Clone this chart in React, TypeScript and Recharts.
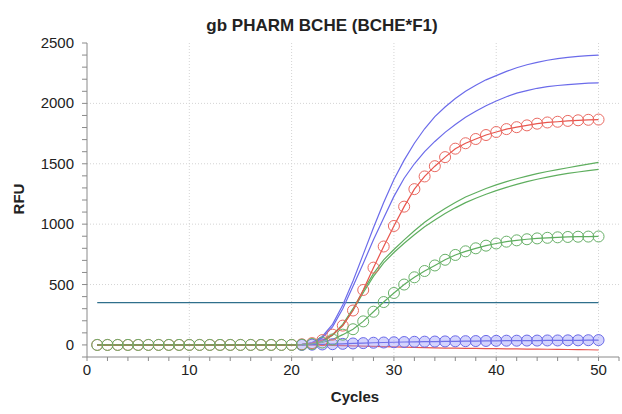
import React from 'react';
import { LineChart, Line, XAxis, YAxis, CartesianGrid } from 'recharts';

const cycles = [1, 2, 3, 4, 5, 6, 7, 8, 9, 10, 11, 12, 13, 14, 15, 16, 17, 18, 19, 20, 21, 22, 23, 24, 25, 26, 27, 28, 29, 30, 31, 32, 33, 34, 35, 36, 37, 38, 39, 40, 41, 42, 43, 44, 45, 46, 47, 48, 49, 50];

const blueLineA = [0, 0, 0, 0, 0, 0, 0, 0, 0, 0, 0, 0, 0, 0, 0, 0, 0, 0, 0, 0,
  5, 20, 70, 170, 330, 530, 750, 970, 1180, 1370, 1530, 1670, 1790, 1890, 1970, 2040, 2100, 2150, 2195, 2230,
  2265, 2295, 2320, 2340, 2357, 2370, 2381, 2390, 2396, 2400];

const blueLineB = [0, 0, 0, 0, 0, 0, 0, 0, 0, 0, 0, 0, 0, 0, 0, 0, 0, 0, 0, 0,
  3, 15, 60, 150, 300, 485, 675, 870, 1050, 1230, 1380, 1500, 1600, 1685, 1760, 1825, 1885, 1935, 1980, 2020,
  2055, 2085, 2105, 2125, 2138, 2148, 2156, 2162, 2167, 2170];

const redCircles = [0, 0, 0, 0, 0, 0, 0, 0, 0, 0, 0, 0, 0, 0, 0, 0, 0, 0, 0, 0,
  5, 15, 40, 85, 160, 285, 455, 640, 815, 985, 1145, 1290, 1395, 1480, 1555, 1625, 1670, 1705, 1738, 1763,
  1787, 1803, 1818, 1832, 1842, 1848, 1855, 1860, 1864, 1866];

const greenLineA = [0, 0, 0, 0, 0, 0, 0, 0, 0, 0, 0, 0, 0, 0, 0, 0, 0, 0, 0, 0,
  3, 10, 30, 85, 170, 300, 450, 590, 705, 790, 870, 945, 1015, 1075, 1130, 1180, 1225, 1260, 1295, 1325,
  1352, 1376, 1398, 1418, 1436, 1452, 1467, 1482, 1497, 1512];

const greenLineB = [0, 0, 0, 0, 0, 0, 0, 0, 0, 0, 0, 0, 0, 0, 0, 0, 0, 0, 0, 0,
  3, 9, 28, 80, 162, 288, 432, 568, 680, 765, 842, 912, 978, 1035, 1088, 1135, 1178, 1215, 1248, 1278,
  1305, 1330, 1352, 1372, 1390, 1406, 1420, 1432, 1443, 1453];

const greenCircles = [0, 0, 0, 0, 0, 0, 0, 0, 0, 0, 0, 0, 0, 0, 0, 0, 0, 0, 0, 0,
  2, 8, 20, 45, 85, 130, 195, 275, 355, 430, 500, 560, 612, 658, 705, 745, 775, 800, 822, 840,
  855, 866, 875, 882, 887, 891, 894, 896, 897, 898];

const redLow = [0, 0, 0, 0, 0, 0, 0, 0, 0, 0, 0, 0, 0, 0, 0, 0, 0, 0, 0, 0,
  0, 0, -2, -4, -6, -8, -10, -12, -14, -16, -18, -20, -22, -24, -26, -27, -28, -29, -30, -31,
  -32, -33, -34, -35, -36, -37, -38, -39, -40, -42];

const blueCircles = [null, null, null, null, null, null, null, null, null, null, null, null, null, null, null, null, null, null, null, null,
  0, 2, 4, 6, 9, 12, 15, 18, 20, 22, 24, 26, 27, 28, 29, 30, 31, 32, 33, 34,
  35, 35, 36, 36, 37, 37, 38, 38, 39, 40];

const THRESHOLD = 350;

const xTicks = [0, 2, 4, 6, 8, 10, 12, 14, 16, 18, 20, 22, 24, 26, 28, 30, 32, 34, 36, 38, 40, 42, 44, 46, 48, 50, 52];
const xLabelTicks = [0, 10, 20, 30, 40, 50];
const yTicks = [-100, 0, 100, 200, 300, 400, 500, 600, 700, 800, 900, 1000, 1100, 1200, 1300, 1400, 1500, 1600, 1700, 1800, 1900, 2000, 2100, 2200, 2300, 2400, 2500];
const yLabelTicks = [0, 500, 1000, 1500, 2000, 2500];

const data = cycles.map((c, i) => ({
  cycle: c,
  blueA: blueLineA[i],
  blueB: blueLineB[i],
  redC: redCircles[i],
  greenA: greenLineA[i],
  greenB: greenLineB[i],
  greenC: greenCircles[i],
  redL: redLow[i],
  blueC: blueCircles[i],
  threshold: THRESHOLD,
}));

const FONT = '"Liberation Sans", Arial, sans-serif';

const XTick = (props: any) => {
  const { x, y, payload } = props;
  if (!xLabelTicks.includes(payload.value)) return <g />;
  return (
    <text x={x} y={y} dy={11} textAnchor="middle" fontSize={15} fill="#222" fontFamily={FONT}>
      {payload.value}
    </text>
  );
};

const YTick = (props: any) => {
  const { x, y, payload } = props;
  if (!yLabelTicks.includes(payload.value)) return <g />;
  return (
    <text x={x} y={y} dy={5} textAnchor="end" fontSize={15} fill="#222" fontFamily={FONT}>
      {payload.value}
    </text>
  );
};

const Empty = () => <g />;

const BLUE = '#6b6bea';
const RED = '#e8544c';
const GREEN = '#5fae5f';

export default function App() {
  return (
    <div style={{ position: 'absolute', left: 0, top: 0, width: 622, height: 414, background: '#fff' }}>
      <LineChart
        width={622}
        height={414}
        data={data}
        margin={{ top: 43, right: 3, bottom: 0, left: 0 }}
      >
        <CartesianGrid
          verticalValues={[10, 20, 30, 40, 50]}
          horizontalValues={[500, 1000, 1500, 2000]}
          stroke="#d4d4d4"
          strokeDasharray="1 2"
        />
        <XAxis
          dataKey="cycle"
          type="number"
          domain={[0, 52]}
          ticks={xTicks}
          interval={0}
          height={57}
          tickSize={4}
          tickMargin={3}
          tick={<XTick />}
          stroke="#8a8a8a"
          allowDataOverflow
        />
        <XAxis
          xAxisId="top"
          orientation="top"
          type="number"
          domain={[0, 52]}
          ticks={xTicks}
          interval={0}
          height={0}
          tickSize={3}
          mirror
          tick={<Empty />}
          stroke="#9a9a9a"
        />
        <YAxis
          type="number"
          domain={[-100, 2500]}
          ticks={yTicks}
          interval={0}
          width={87}
          tickSize={5}
          tickMargin={8}
          tick={<YTick />}
          stroke="#8a8a8a"
          allowDataOverflow
        />
        <YAxis
          yAxisId="right"
          orientation="right"
          type="number"
          domain={[-100, 2500]}
          ticks={yTicks}
          interval={0}
          width={0}
          tickSize={3}
          mirror
          tick={<Empty />}
          stroke="#9a9a9a"
        />
        <Line dataKey="threshold" stroke="#2f6f8c" strokeWidth={1.2} dot={false} isAnimationActive={false} />
        <Line dataKey="blueA" stroke={BLUE} strokeWidth={1.2} dot={false} isAnimationActive={false} />
        <Line dataKey="blueB" stroke={BLUE} strokeWidth={1.2} dot={false} isAnimationActive={false} />
        <Line dataKey="greenA" stroke={GREEN} strokeWidth={1.2} dot={false} isAnimationActive={false} />
        <Line dataKey="greenB" stroke={GREEN} strokeWidth={1.2} dot={false} isAnimationActive={false} />
        <Line dataKey="redL" stroke={RED} strokeWidth={1.2} dot={false} isAnimationActive={false} />
        <Line
          dataKey="blueC"
          stroke="#4a4ad8"
          strokeWidth={1.2}
          dot={{ r: 5.5, stroke: '#6a6ae8', strokeWidth: 1, fill: 'rgba(160,160,250,0.45)' }}
          isAnimationActive={false}
        />
        <Line
          dataKey="redC"
          stroke={RED}
          strokeWidth={1.2}
          dot={{ r: 5.5, stroke: '#ea6a62', strokeWidth: 1, fill: 'none' }}
          isAnimationActive={false}
        />
        <Line
          dataKey="greenC"
          stroke={GREEN}
          strokeWidth={1.2}
          dot={{ r: 5.5, stroke: '#68b068', strokeWidth: 1, fill: 'none' }}
          isAnimationActive={false}
        />
      </LineChart>
      <svg
        width={622}
        height={414}
        style={{ position: 'absolute', left: 0, top: 0, pointerEvents: 'none' }}
      >
        <text x={322} y={31} textAnchor="middle" fontSize={17} fontWeight="bold" fill="#222" fontFamily={FONT}>
          gb PHARM BCHE (BCHE*F1)
        </text>
        <text
          x={0}
          y={0}
          transform="translate(24 199) rotate(-90)"
          textAnchor="middle"
          fontSize={15}
          fontWeight="bold"
          fill="#222"
          fontFamily={FONT}
        >
          RFU
        </text>
        <text x={355} y={402} textAnchor="middle" fontSize={15} fontWeight="bold" fill="#222" fontFamily={FONT}>
          Cycles
        </text>
      </svg>
    </div>
  );
}
